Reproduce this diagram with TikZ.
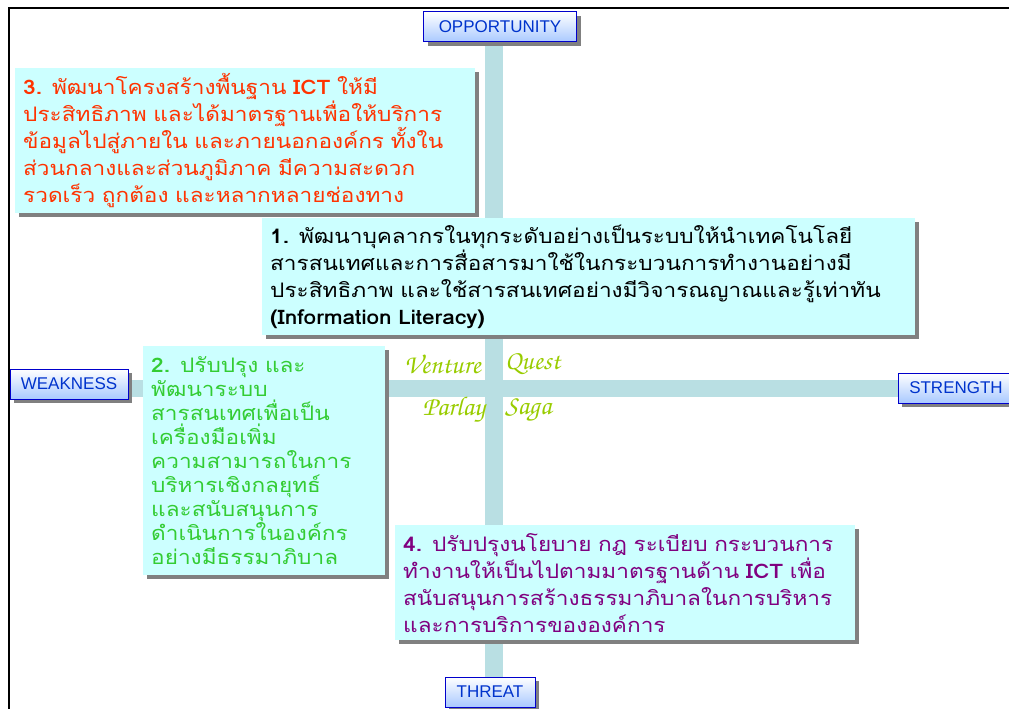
\documentclass[tikz,border=0pt]{standalone}
\usepackage[T1]{fontenc}
\usepackage{fontspec}
\newfontfamily\labelfont{Liberation Sans}
\newfontfamily\thaifont[Script=Thai, FakeStretch=1.13]{Loma}
\usetikzlibrary{shadows}
\pgfdeclarelayer{background}
\pgfsetlayers{background,main}

\definecolor{axisblue}{HTML}{B9DFE3}
\definecolor{boxcyan}{HTML}{CCFFFF}
\definecolor{labelblue}{HTML}{0033CC}
\definecolor{labeledge}{HTML}{0000CC}
\definecolor{labellow}{HTML}{A9C9FF}
\definecolor{redtext}{HTML}{FF3300}
\definecolor{greentext}{HTML}{33CC33}
\definecolor{purpletext}{HTML}{800080}
\definecolor{olivetext}{HTML}{99CC00}
\definecolor{shadowgray}{HTML}{808080}

\tikzset{
	swotpicture/.style = {
		x = 1pt,
		y = -1pt,
		axisbar/.style = {
			draw = axisblue,
			line width = 18pt
		}
	},
	hardshadow/.style = {
		general shadow = {shadow xshift=4pt, shadow yshift=-4pt, fill=shadowgray}
	},
	axislabel/.style = {
		draw = labeledge,
		line width = 1pt,
		top color = white,
		bottom color = labellow,
		text = labelblue,
		font = \labelfont\fontsize{17}{19}\selectfont,
		minimum height = 30pt,
		inner sep = 0pt,
		hardshadow
	},
	goalbox/.style = {
		fill = boxcyan,
		anchor = north west,
		align = left,
		inner xsep = 8pt,
		inner ysep = 4pt,
		font = \thaifont\fontsize{20}{27}\selectfont,
		hardshadow
	},
	quadrant/.style = {
		text = olivetext,
		inner sep = 0pt,
		font = \fontsize{27}{27}\fontencoding{T1}\fontfamily{pzc}\fontseries{mb}\fontshape{it}\selectfont
	}
}

\begin{document}
\begin{tikzpicture}[swotpicture]
	\useasboundingbox (0,0) rectangle (1009,709);
	\draw[line width=2.5pt] (9,709) -- (9,8) -- (1009,8);

	\node[axislabel, minimum width=153pt] (O) at (500,27) {OPPORTUNITY};
	\node[axislabel, minimum width=118pt] (W) at (69,384) {WEAKNESS};
	\node[axislabel, minimum width=116pt] (S) at (956,388) {STRENGTH};
	\node[axislabel, minimum width=90pt] (T) at (490,692) {THREAT};
	\coordinate (C) at (494,388);

	\begin{pgfonlayer}{background}
		\path[axisbar] (O.south -| C) -- (T.north -| C);
		\path[axisbar, line width=17pt] (W.east |- C) -- (S.west |- C);
	\end{pgfonlayer}

	\node[goalbox, text=redtext, text width=444pt, minimum height=145pt] (G3) at (15,68)
		{\textbf{3.} พัฒนาโครงสร้างพื้นฐาน \textbf{ICT} ให้มี\\
		ประสิทธิภาพ และได้มาตรฐานเพื่อให้บริการ\\
		ข้อมูลไปสู่ภายใน และภายนอกองค์กร ทั้งใน\\
		ส่วนกลางและส่วนภูมิภาค มีความสะดวก\\
		รวดเร็ว ถูกต้อง และหลากหลายช่องทาง};
	\node[goalbox, text=black, text width=637pt, minimum height=117pt] (G1) at (262,218)
		{\textbf{1.} พัฒนาบุคลากรในทุกระดับอย่างเป็นระบบให้นำเทคโนโลยี\\
		สารสนเทศและการสื่อสารมาใช้ในกระบวนการทำงานอย่างมี\\
		ประสิทธิภาพ และใช้สารสนเทศอย่างมีวิจารณญาณและรู้เท่าทัน\\
		\textbf{(Information Literacy)}};
	\node[goalbox, text=greentext, text width=226pt, minimum height=229pt,
		font=\thaifont\fontsize{20}{24}\selectfont] (G2) at (143,346)
		{\textbf{2.} ปรับปรุง และ\\
		พัฒนาระบบ\\
		สารสนเทศเพื่อเป็น\\
		เครื่องมือเพิ่ม\\
		ความสามารถในการ\\
		บริหารเชิงกลยุทธ์\\
		และสนับสนุนการ\\
		ดำเนินการในองค์กร\\
		อย่างมีธรรมาภิบาล};
	\node[goalbox, text=purpletext, text width=444pt, minimum height=115pt] (G4) at (395,525)
		{\textbf{4.} ปรับปรุงนโยบาย กฎ ระเบียบ กระบวนการ\\
		ทำงานให้เป็นไปตามมาตรฐานด้าน \textbf{ICT} เพื่อ\\
		สนับสนุนการสร้างธรรมาภิบาลในการบริหาร\\
		และการบริการขององค์การ};

	\node[quadrant, anchor=east] (V) at (481,364) {Venture};
	\node[quadrant, anchor=west] (Q) at (505,364) {Quest};
	\node[quadrant, anchor=east] (P) at (485,410) {Parlay};
	\node[quadrant, anchor=west] (Sg) at (505,410) {Saga};
\end{tikzpicture}
\end{document}
